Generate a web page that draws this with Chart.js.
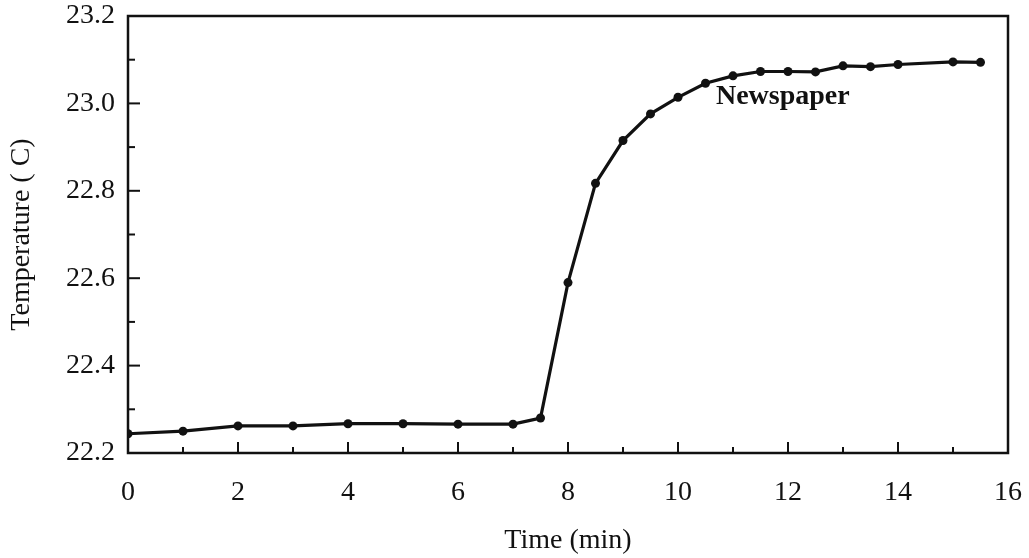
<!DOCTYPE html>
<html>
<head>
<meta charset="utf-8">
<script src="https://cdn.jsdelivr.net/npm/chart.js@4.4.0/dist/chart.umd.min.js"></script>
<style>
  html, body { margin: 0; padding: 0; background: #fff; }
  #wrap { width: 1029px; height: 558px; }
</style>
</head>
<body>
<div id="wrap"><canvas id="c" width="1029" height="558"></canvas></div>
<script>
// Temperature trace over time
const timeMin = [0, 1, 2, 3, 4, 5, 6, 7, 7.5, 8, 8.5, 9, 9.5, 10, 10.5, 11, 11.5, 12, 12.5, 13, 13.5, 14, 15, 15.5];
const tempC = [22.244, 22.25, 22.262, 22.262, 22.267, 22.267, 22.266, 22.266, 22.28, 22.59, 22.817, 22.915, 22.976, 23.014, 23.046, 23.063, 23.073, 23.073, 23.072, 23.086, 23.084, 23.089, 23.095, 23.094];

// Axis ranges and labelled ticks
const xRange = [0, 16];
const yRange = [22.2, 23.2];
const xTickLabels = ['0', '2', '4', '6', '8', '10', '12', '14', '16'];
const yTickLabels = ['22.2', '22.4', '22.6', '22.8', '23.0', '23.2'];

const seriesLabel = 'Newspaper';
const xTitle = 'Time (min)';
const yTitle = 'Temperature ( C)';

const INK = '#111';
const SERIF = '"Liberation Serif", "DejaVu Serif", serif';

// Frame around the plotting area plus inward-pointing major/minor ticks
const framePlugin = {
  id: 'frame',
  afterDatasetsDraw(chart) {
    const { ctx, chartArea: a, scales } = chart;
    ctx.save();
    ctx.strokeStyle = INK;
    ctx.lineWidth = 2.5;
    ctx.strokeRect(a.left, a.top, a.right - a.left, a.bottom - a.top);
    ctx.lineWidth = 2;
    // x ticks (every minute; longer on labelled ones)
    scales.x.ticks.forEach(t => {
      const v = t.value;
      if (v <= xRange[0] || v >= xRange[1]) return;
      const px = scales.x.getPixelForValue(v);
      const major = Math.round(v) % 2 === 0;
      const len = major ? 11 : 6;
      ctx.beginPath();
      ctx.moveTo(px, a.bottom);
      ctx.lineTo(px, a.bottom - len);
      ctx.stroke();
    });
    // y ticks (every 0.1 degree)
    scales.y.ticks.forEach(t => {
      const v = t.value;
      if (v <= yRange[0] + 1e-6 || v >= yRange[1] - 1e-6) return;
      const py = scales.y.getPixelForValue(v);
      const major = Math.round(v * 10) % 2 === 0;
      const len = major ? 12 : 7;
      ctx.beginPath();
      ctx.moveTo(a.left, py);
      ctx.lineTo(a.left + len, py);
      ctx.stroke();
    });
    // series label
    ctx.fillStyle = INK;
    ctx.font = 'bold 28px ' + SERIF;
    ctx.textAlign = 'left';
    ctx.textBaseline = 'middle';
    ctx.fillText(seriesLabel, scales.x.getPixelForValue(10.69), scales.y.getPixelForValue(23.015));
    ctx.restore();
  }
};

new Chart(document.getElementById('c'), {
  type: 'line',
  data: {
    datasets: [{
      label: seriesLabel,
      data: timeMin.map((t, i) => ({ x: t, y: tempC[i] })),
      borderColor: INK,
      backgroundColor: INK,
      borderWidth: 3.2,
      pointRadius: 4.5,
      pointHoverRadius: 4.5,
      pointBorderWidth: 0,
      tension: 0,
      fill: false
    }]
  },
  options: {
    responsive: false,
    animation: false,
    events: [],
    layout: { padding: { top: 16, right: 21, left: 0, bottom: 0 } },
    plugins: { legend: { display: false }, tooltip: { enabled: false } },
    scales: {
      x: {
        type: 'linear',
        min: xRange[0], max: xRange[1],
        afterFit: s => { s.height = 105; s.paddingLeft = 0; s.paddingRight = 0; },
        grid: { display: false, drawTicks: false },
        border: { display: false },
        ticks: {
          stepSize: 1,
          autoSkip: false,
          maxRotation: 0,
          padding: 23,
          color: INK,
          font: { family: SERIF, size: 28 },
          callback: v => {
            const i = xTickLabels.indexOf(String(v));
            return i >= 0 ? xTickLabels[i] : '';
          }
        },
        title: {
          display: true,
          text: xTitle,
          color: INK,
          font: { family: SERIF, size: 28 },
          padding: { top: 1, bottom: 1 }
        }
      },
      y: {
        type: 'linear',
        min: yRange[0], max: yRange[1],
        afterFit: s => { s.width = 128; s.paddingTop = 0; s.paddingBottom = 0; },
        grid: { display: false, drawTicks: false },
        border: { display: false },
        ticks: {
          stepSize: 0.1,
          autoSkip: false,
          padding: 13,
          color: INK,
          font: { family: SERIF, size: 28 },
          callback: v => {
            const s = (Math.round(v * 10) / 10).toFixed(1);
            return yTickLabels.includes(s) ? s : '';
          }
        },
        title: {
          display: true,
          text: yTitle,
          color: INK,
          font: { family: SERIF, size: 28 },
          padding: { top: 5, bottom: 1 }
        }
      }
    }
  },
  plugins: [framePlugin]
});
</script>
</body>
</html>
